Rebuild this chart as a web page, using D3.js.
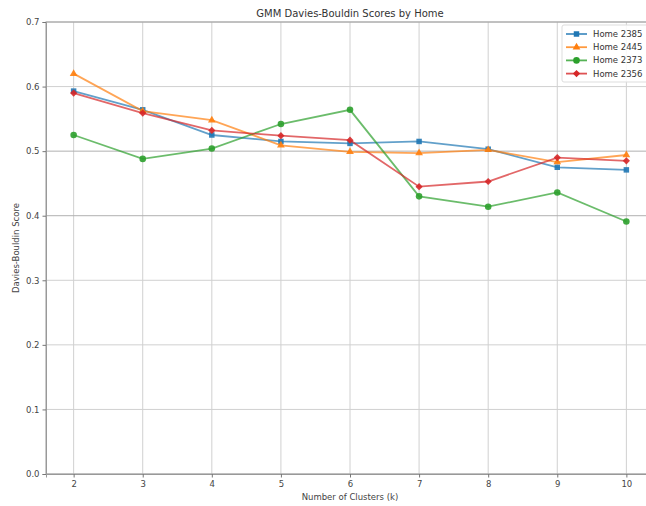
<!DOCTYPE html>
<html><head><meta charset="utf-8">
<script src="https://cdn.jsdelivr.net/npm/d3@7"></script>
<style>body{margin:0;background:#fff}svg{display:block;font-family:"DejaVu Sans",sans-serif}</style>
</head><body><svg id="c" width="646" height="506"></svg>
<script>
const clusters = [2,3,4,5,6,7,8,9,10];
const yTicks = [0.0,0.1,0.2,0.3,0.4,0.5,0.6,0.7];
const homes = ["Home 2385","Home 2445","Home 2373","Home 2356"];
const home2385 = [0.593,0.564,0.525,0.515,0.512,0.515,0.503,0.475,0.471];
const home2445 = [0.620,0.562,0.548,0.509,0.499,0.497,0.502,0.483,0.494];
const home2373 = [0.525,0.488,0.504,0.542,0.564,0.430,0.414,0.436,0.391];
const home2356 = [0.590,0.559,0.532,0.524,0.517,0.445,0.453,0.490,0.485];
const seriesValues = [home2385,home2445,home2373,home2356];
const colors = ["#1f77b4","#ff7f0e","#2ca02c","#d62728"];
const symbols = [d3.symbolSquare,d3.symbolTriangle,d3.symbolCircle,d3.symbolSquare];
const rot = [0,0,0,45];
const sizes = [30,26,34,26];

const svg = d3.select("#c");
const L=46,R=654,T=22,B=474;
const x = d3.scaleLinear().domain([1.6,10.4]).range([L,R]);
const y = d3.scaleLinear().domain([0,0.7]).range([B,T]);

// grid
svg.append("g").selectAll("line").data(clusters).join("line")
  .attr("x1",d=>x(d)).attr("x2",d=>x(d)).attr("y1",T).attr("y2",B)
  .attr("stroke","#d0d0d0").attr("stroke-width",1);
svg.append("g").selectAll("line").data(yTicks).join("line")
  .attr("x1",L).attr("x2",R).attr("y1",d=>y(d)).attr("y2",d=>y(d))
  .attr("stroke",d=>(d===0.5||d===0.4)?"#b0b0b0":"#d0d0d0").attr("stroke-width",1);

// frame
svg.append("rect").attr("x",L).attr("y",T).attr("width",R-L).attr("height",B-T)
  .attr("fill","none").attr("stroke","#999").attr("stroke-width",1);

// axes
const xa = svg.append("g").attr("transform",`translate(0,${B})`)
  .call(d3.axisBottom(x).tickValues(clusters).tickSize(3.5).tickPadding(3).tickFormat(d3.format("d")));
const ya = svg.append("g").attr("transform",`translate(${L},0)`)
  .call(d3.axisLeft(y).tickValues(yTicks).tickSize(3.5).tickPadding(3).tickFormat(d3.format(".1f")));
[xa,ya].forEach(a=>{
  a.select(".domain").attr("stroke","#999");
  a.selectAll(".tick line").attr("stroke","#777");
  a.selectAll(".tick text").attr("fill","#444").style("font-size","8.5px").style("font-family","DejaVu Sans");
});

// lines
const line = d3.line().x((d,i)=>x(clusters[i])).y(d=>y(d));
seriesValues.forEach((vals,s)=>{
  svg.append("path").datum(vals).attr("d",line).attr("fill","none")
    .attr("stroke",colors[s]).attr("stroke-width",1.8).attr("stroke-opacity",0.7);
  svg.append("g").selectAll("path").data(vals).join("path")
    .attr("transform",(d,i)=>`translate(${x(clusters[i])},${y(d)}) rotate(${rot[s]})`)
    .attr("d",d3.symbol().type(symbols[s]).size(sizes[s]))
    .attr("fill",colors[s]).attr("fill-opacity",0.9);
});

// title & labels
svg.append("text").attr("x",(L+R)/2).attr("y",17).attr("text-anchor","middle")
  .style("font-size","10px").attr("fill","#333").text("GMM Davies-Bouldin Scores by Home");
svg.append("text").attr("x",(L+R)/2).attr("y",500).attr("text-anchor","middle")
  .style("font-size","8.5px").attr("fill","#444").text("Number of Clusters (k)");
svg.append("text").attr("transform",`translate(19,${(T+B)/2}) rotate(-90)`).attr("text-anchor","middle")
  .style("font-size","8.5px").attr("fill","#444").text("Davies-Bouldin Score");

// legend
const lg = svg.append("g");
lg.append("rect").attr("x",562).attr("y",25).attr("width",100).attr("height",57).attr("rx",2)
  .attr("fill","#fff").attr("fill-opacity",0.85).attr("stroke","#ddd");
homes.forEach((h,s)=>{
  const yy = 34 + s*13.2;
  lg.append("line").attr("x1",566).attr("x2",587).attr("y1",yy).attr("y2",yy)
    .attr("stroke",colors[s]).attr("stroke-width",1.8).attr("stroke-opacity",0.8);
  lg.append("path").attr("transform",`translate(576.5,${yy}) rotate(${rot[s]})`)
    .attr("d",d3.symbol().type(symbols[s]).size(sizes[s])).attr("fill",colors[s]);
  lg.append("text").attr("x",593).attr("y",yy+3).style("font-size","8.5px").attr("fill","#333").text(h);
});
</script></body></html>
